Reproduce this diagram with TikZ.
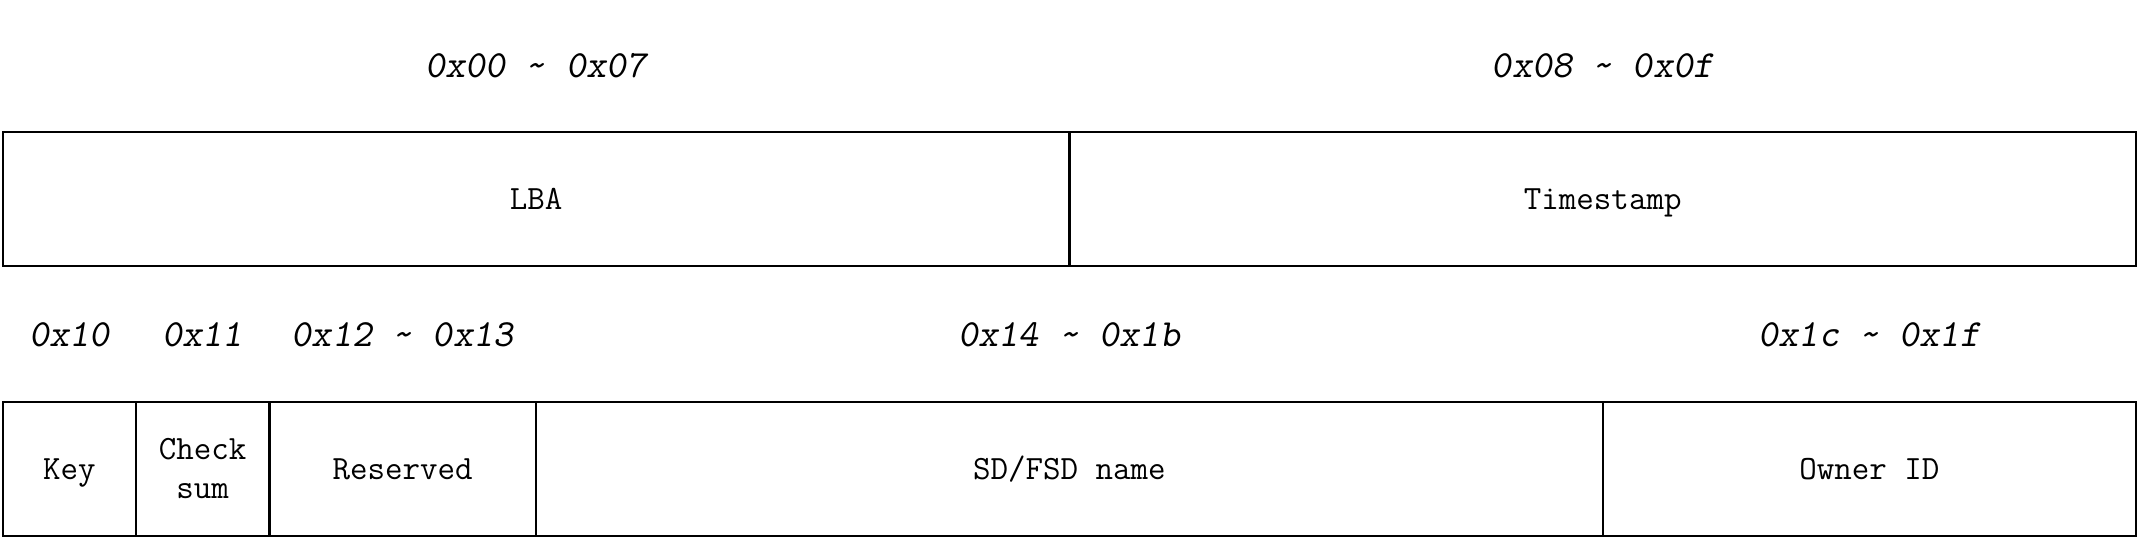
\documentclass[tikz,border=0pt]{standalone}
\usepackage{fontspec}
\newcommand\fieldfont{\ttfamily\fontsize{17}{19.5}\selectfont}
\newcommand\offfont{\ttfamily\slshape\fontsize{19.2}{22}\selectfont}
\begin{document}
\begin{tikzpicture}[
  field/.style={draw, line width=1.2pt, minimum height=67pt, inner sep=0pt, outer sep=0pt, font=\fieldfont, align=center, anchor=west},
  oneline/.style={text height=13pt, text depth=2.7pt},
  off/.style={font=\offfont, inner sep=0pt, text height=12.5pt, text depth=0pt}
]
\def\u{66.667pt}
\useasboundingbox (0,0) rectangle (1069.5pt,-269.5pt);
% row 1
\node[field, oneline, minimum width=8*\u] (lba) at (1.35pt,-99.5pt) {LBA};
\node[field, oneline, minimum width=8*\u] (ts) at (lba.east) {Timestamp};
% row 2
\node[field, oneline, minimum width=\u] (key) at (1.35pt,-234.5pt) {Key};
\node[field, minimum width=\u] (chk) at (key.east) {Check\\sum};
\node[field, oneline, minimum width=2*\u] (res) at (chk.east) {Reserved};
\node[field, oneline, minimum width=8*\u] (name) at (res.east) {SD/FSD name};
\node[field, oneline, minimum width=4*\u] (own) at (name.east) {Owner ID};
% offsets
\node[off] (o00) at (lba.center |- 0,-32.5pt) {0x00 \textasciitilde{} 0x07};
\node[off] (o08) at (ts.center |- 0,-32.5pt) {0x08 \textasciitilde{} 0x0f};
\node[off] (o10) at (key.center |- 0,-167pt) {0x10};
\node[off] (o11) at (chk.center |- 0,-167pt) {0x11};
\node[off] (o12) at (res.center |- 0,-167pt) {0x12 \textasciitilde{} 0x13};
\node[off] (o14) at (name.center |- 0,-167pt) {0x14 \textasciitilde{} 0x1b};
\node[off] (o1c) at (own.center |- 0,-167pt) {0x1c \textasciitilde{} 0x1f};
\end{tikzpicture}
\end{document}
